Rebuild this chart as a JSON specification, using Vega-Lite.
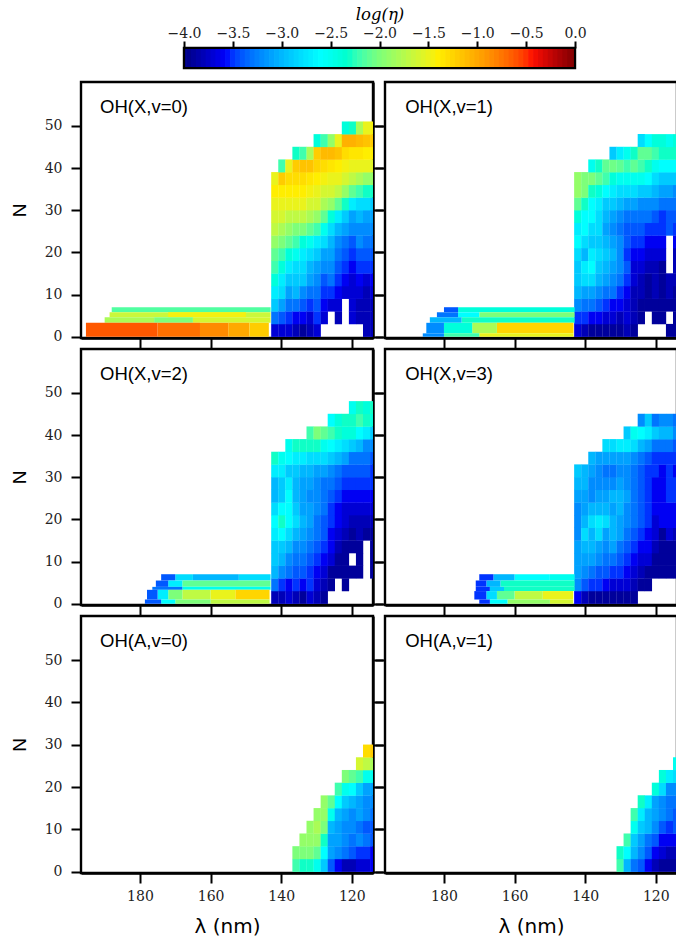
{"$schema":"https://vega.github.io/schema/vega-lite/v6.json","padding":{"left":8,"top":4,"right":0,"bottom":0},"background":"white","spacing":9,
"config":{"view":{"stroke":"black","strokeWidth":2.4},"axis":{"grid":false,"domain":false,"ticks":true,"tickColor":"black","tickWidth":2,"tickSize":10,"labelFont":"DejaVu Serif","labelFontSize":14,"labelColor":"#222222","labelPadding":9,"titleFont":"Liberation Sans","titleFontSize":19,"titleFontWeight":"normal","titleColor":"black","titlePadding":15,"zindex":1},"text":{"font":"Liberation Sans","fontSize":18.5,"color":"black","align":"left"}},
"datasets":{
"b0":[{"a":143,"c":188,"y":5.8,"z":7,"v":-2.15},{"a":143,"c":188.6,"y":4.6,"z":5.8,"v":-1.65},{"a":150,"c":172,"y":4.6,"z":5.8,"v":-1.45},{"a":143,"c":165,"y":3.3,"z":4.6,"v":-1.6},{"a":165,"c":176,"y":3.3,"z":4.6,"v":-2.0},{"a":176,"c":190,"y":3.3,"z":4.6,"v":-1.8},{"a":175,"c":195.3,"y":0,"z":3.3,"v":-0.62},{"a":163,"c":175,"y":0,"z":3.3,"v":-0.72},{"a":155,"c":163,"y":0,"z":3.3,"v":-0.85},{"a":149,"c":155,"y":0,"z":3.3,"v":-1.0},{"a":143.5,"c":149,"y":0,"z":3.3,"v":-1.2}],
"b1":[{"a":143,"c":176,"y":5.8,"z":7,"v":-2.4},{"a":176,"c":180,"y":5.8,"z":7,"v":-3.4},{"a":143,"c":170,"y":4.6,"z":5.8,"v":-2.0},{"a":170,"c":176,"y":4.6,"z":5.8,"v":-2.6},{"a":176,"c":182,"y":4.6,"z":5.8,"v":-3.3},{"a":143,"c":175,"y":3.3,"z":4.6,"v":-2.3},{"a":175,"c":184,"y":3.3,"z":4.6,"v":-3.0},{"a":143.3,"c":165,"y":0.8,"z":3.3,"v":-1.25},{"a":165,"c":172,"y":0.8,"z":3.3,"v":-1.8},{"a":172,"c":180,"y":0.8,"z":3.3,"v":-2.4},{"a":180,"c":185,"y":0.8,"z":3.3,"v":-3.2},{"a":143.3,"c":170,"y":0,"z":0.8,"v":-1.5},{"a":170,"c":180,"y":0,"z":0.8,"v":-2.2},{"a":180,"c":186,"y":0,"z":0.8,"v":-3.2}],
"b2":[{"a":143,"c":152,"y":5.5,"z":7,"v":-2.8},{"a":152,"c":165,"y":5.5,"z":7,"v":-3.0},{"a":165,"c":170,"y":5.5,"z":7,"v":-2.8},{"a":170,"c":174,"y":5.5,"z":7,"v":-3.4},{"a":143,"c":168,"y":4,"z":5.5,"v":-2.1},{"a":168,"c":172,"y":4,"z":5.5,"v":-2.7},{"a":172,"c":175.5,"y":4,"z":5.5,"v":-3.4},{"a":143,"c":168,"y":3.3,"z":4,"v":-2.5},{"a":168,"c":176.5,"y":3.3,"z":4,"v":-3.3},{"a":143.3,"c":153,"y":1,"z":3.3,"v":-1.25},{"a":153,"c":160,"y":1,"z":3.3,"v":-1.5},{"a":160,"c":168,"y":1,"z":3.3,"v":-1.7},{"a":168,"c":172,"y":1,"z":3.3,"v":-2.0},{"a":172,"c":175,"y":1,"z":3.3,"v":-2.7},{"a":175,"c":178,"y":1,"z":3.3,"v":-3.4},{"a":143.3,"c":160,"y":0,"z":1,"v":-1.7},{"a":160,"c":170,"y":0,"z":1,"v":-2.0},{"a":170,"c":174,"y":0,"z":1,"v":-2.6},{"a":174,"c":178.6,"y":0,"z":1,"v":-3.4}],
"b3":[{"a":143,"c":150,"y":5.5,"z":7,"v":-2.5},{"a":150,"c":160,"y":5.5,"z":7,"v":-2.6},{"a":160,"c":166,"y":5.5,"z":7,"v":-3.0},{"a":166,"c":170,"y":5.5,"z":7,"v":-3.5},{"a":143,"c":164,"y":4,"z":5.5,"v":-2.3},{"a":164,"c":168,"y":4,"z":5.5,"v":-3.0},{"a":168,"c":171,"y":4,"z":5.5,"v":-3.5},{"a":143,"c":163,"y":3,"z":4,"v":-2.3},{"a":163,"c":167,"y":3,"z":4,"v":-2.9},{"a":167,"c":171,"y":3,"z":4,"v":-3.5},{"a":143.4,"c":152,"y":1,"z":3,"v":-1.5},{"a":152,"c":160,"y":1,"z":3,"v":-1.7},{"a":160,"c":165,"y":1,"z":3,"v":-2.1},{"a":165,"c":168,"y":1,"z":3,"v":-2.8},{"a":168,"c":171.4,"y":1,"z":3,"v":-3.5},{"a":143.4,"c":150,"y":0,"z":1,"v":-1.6},{"a":150,"c":162,"y":0,"z":1,"v":-1.9},{"a":162,"c":167,"y":0,"z":1,"v":-2.6},{"a":167,"c":170,"y":0,"z":1,"v":-3.5}],
"u0":[
{"l":141.8,"n":1.5,"v":-3.7},{"l":141.8,"n":4.5,"v":-3.3},{"l":141.8,"n":7.5,"v":-2.9},{"l":141.8,"n":10.5,"v":-2.7},{"l":141.8,"n":13.5,"v":-2.4},{"l":141.8,"n":16.5,"v":-2.2},{"l":141.8,"n":19.5,"v":-2.1},{"l":141.8,"n":22.5,"v":-1.9},{"l":141.8,"n":25.5,"v":-1.7},{"l":141.8,"n":28.5,"v":-1.6},{"l":141.8,"n":31.5,"v":-1.5},{"l":141.8,"n":34.5,"v":-1.4},{"l":141.8,"n":37.5,"v":-1.5},
{"l":139.8,"n":1.5,"v":-3.7},{"l":139.8,"n":4.5,"v":-3.4},{"l":139.8,"n":7.5,"v":-3.1},{"l":139.8,"n":10.5,"v":-2.8},{"l":139.8,"n":13.5,"v":-2.7},{"l":139.8,"n":16.5,"v":-2.4},{"l":139.8,"n":19.5,"v":-2.2},{"l":139.8,"n":22.5,"v":-2.0},{"l":139.8,"n":25.5,"v":-1.8},{"l":139.8,"n":28.5,"v":-1.6},{"l":139.8,"n":31.5,"v":-1.5},{"l":139.8,"n":34.5,"v":-1.4},{"l":139.8,"n":37.5,"v":-1.2},{"l":139.8,"n":40.5,"v":-2.2},
{"l":137.8,"n":1.5,"v":-3.7},{"l":137.8,"n":4.5,"v":-3.5},{"l":137.8,"n":7.5,"v":-3.3},{"l":137.8,"n":10.5,"v":-3.1},{"l":137.8,"n":13.5,"v":-2.9},{"l":137.8,"n":16.5,"v":-2.7},{"l":137.8,"n":19.5,"v":-2.4},{"l":137.8,"n":22.5,"v":-2.1},{"l":137.8,"n":25.5,"v":-1.9},{"l":137.8,"n":28.5,"v":-1.7},{"l":137.8,"n":31.5,"v":-1.5},{"l":137.8,"n":34.5,"v":-1.4},{"l":137.8,"n":37.5,"v":-1.3},{"l":137.8,"n":40.5,"v":-1.5},
{"l":135.8,"n":1.5,"v":-3.8},{"l":135.8,"n":4.5,"v":-3.6},{"l":135.8,"n":7.5,"v":-3.3},{"l":135.8,"n":10.5,"v":-3.0},{"l":135.8,"n":13.5,"v":-2.9},{"l":135.8,"n":16.5,"v":-2.8},{"l":135.8,"n":19.5,"v":-2.5},{"l":135.8,"n":22.5,"v":-2.2},{"l":135.8,"n":25.5,"v":-2.0},{"l":135.8,"n":28.5,"v":-1.7},{"l":135.8,"n":31.5,"v":-1.5},{"l":135.8,"n":34.5,"v":-1.4},{"l":135.8,"n":37.5,"v":-1.3},{"l":135.8,"n":40.5,"v":-1.2},{"l":135.8,"n":43.5,"v":-2.3},
{"l":133.8,"n":1.5,"v":-3.9},{"l":133.8,"n":4.5,"v":-3.6},{"l":133.8,"n":7.5,"v":-3.4},{"l":133.8,"n":10.5,"v":-3.2},{"l":133.8,"n":13.5,"v":-2.9},{"l":133.8,"n":16.5,"v":-2.8},{"l":133.8,"n":19.5,"v":-2.7},{"l":133.8,"n":22.5,"v":-2.4},{"l":133.8,"n":25.5,"v":-2.0},{"l":133.8,"n":28.5,"v":-1.7},{"l":133.8,"n":31.5,"v":-1.5},{"l":133.8,"n":34.5,"v":-1.4},{"l":133.8,"n":37.5,"v":-1.3},{"l":133.8,"n":40.5,"v":-1.15},{"l":133.8,"n":43.5,"v":-2.2},
{"l":131.8,"n":1.5,"v":-3.8},{"l":131.8,"n":4.5,"v":-3.7},{"l":131.8,"n":7.5,"v":-3.5},{"l":131.8,"n":10.5,"v":-3.3},{"l":131.8,"n":13.5,"v":-3.1},{"l":131.8,"n":16.5,"v":-3.0},{"l":131.8,"n":19.5,"v":-2.8},{"l":131.8,"n":22.5,"v":-2.5},{"l":131.8,"n":25.5,"v":-2.1},{"l":131.8,"n":28.5,"v":-1.8},{"l":131.8,"n":31.5,"v":-1.6},{"l":131.8,"n":34.5,"v":-1.45},{"l":131.8,"n":37.5,"v":-1.35},{"l":131.8,"n":40.5,"v":-1.15},{"l":131.8,"n":43.5,"v":-1.8},
{"l":129.8,"n":1.5,"v":-3.7},{"l":129.8,"n":4.5,"v":-3.5},{"l":129.8,"n":7.5,"v":-3.4},{"l":129.8,"n":10.5,"v":-3.3},{"l":129.8,"n":13.5,"v":-3.2},{"l":129.8,"n":16.5,"v":-3.1},{"l":129.8,"n":19.5,"v":-2.9},{"l":129.8,"n":22.5,"v":-2.7},{"l":129.8,"n":25.5,"v":-2.2},{"l":129.8,"n":28.5,"v":-1.9},{"l":129.8,"n":31.5,"v":-1.6},{"l":129.8,"n":34.5,"v":-1.5},{"l":129.8,"n":37.5,"v":-1.4},{"l":129.8,"n":40.5,"v":-1.25},{"l":129.8,"n":43.5,"v":-1.2},{"l":129.8,"n":46.5,"v":-2.4},
{"l":127.8,"n":4.5,"v":-3.7},{"l":127.8,"n":7.5,"v":-3.6},{"l":127.8,"n":10.5,"v":-3.5},{"l":127.8,"n":13.5,"v":-3.4},{"l":127.8,"n":16.5,"v":-3.2},{"l":127.8,"n":19.5,"v":-3.1},{"l":127.8,"n":22.5,"v":-2.8},{"l":127.8,"n":25.5,"v":-2.5},{"l":127.8,"n":28.5,"v":-2.1},{"l":127.8,"n":31.5,"v":-1.8},{"l":127.8,"n":34.5,"v":-1.6},{"l":127.8,"n":37.5,"v":-1.45},{"l":127.8,"n":40.5,"v":-1.3},{"l":127.8,"n":43.5,"v":-1.1},{"l":127.8,"n":46.5,"v":-2.2},
{"l":125.8,"n":7.5,"v":-3.7},{"l":125.8,"n":10.5,"v":-3.5},{"l":125.8,"n":13.5,"v":-3.3},{"l":125.8,"n":16.5,"v":-3.2},{"l":125.8,"n":19.5,"v":-3.1},{"l":125.8,"n":22.5,"v":-3.0},{"l":125.8,"n":25.5,"v":-2.8},{"l":125.8,"n":28.5,"v":-2.4},{"l":125.8,"n":31.5,"v":-1.9},{"l":125.8,"n":34.5,"v":-1.6},{"l":125.8,"n":37.5,"v":-1.5},{"l":125.8,"n":40.5,"v":-1.35},{"l":125.8,"n":43.5,"v":-1.1},{"l":125.8,"n":46.5,"v":-1.9},
{"l":123.8,"n":4.5,"v":-3.8},{"l":123.8,"n":7.5,"v":-3.7},{"l":123.8,"n":10.5,"v":-3.6},{"l":123.8,"n":13.5,"v":-3.5},{"l":123.8,"n":16.5,"v":-3.4},{"l":123.8,"n":19.5,"v":-3.3},{"l":123.8,"n":22.5,"v":-3.2},{"l":123.8,"n":25.5,"v":-3.0},{"l":123.8,"n":28.5,"v":-2.7},{"l":123.8,"n":31.5,"v":-2.1},{"l":123.8,"n":34.5,"v":-1.7},{"l":123.8,"n":37.5,"v":-1.5},{"l":123.8,"n":40.5,"v":-1.4},{"l":123.8,"n":43.5,"v":-1.15},{"l":123.8,"n":46.5,"v":-1.5},
{"l":121.8,"n":10.5,"v":-3.7},{"l":121.8,"n":13.5,"v":-3.6},{"l":121.8,"n":16.5,"v":-3.5},{"l":121.8,"n":19.5,"v":-3.4},{"l":121.8,"n":22.5,"v":-3.3},{"l":121.8,"n":25.5,"v":-3.1},{"l":121.8,"n":28.5,"v":-2.9},{"l":121.8,"n":31.5,"v":-2.3},{"l":121.8,"n":34.5,"v":-1.9},{"l":121.8,"n":37.5,"v":-1.6},{"l":121.8,"n":40.5,"v":-1.45},{"l":121.8,"n":43.5,"v":-1.3},{"l":121.8,"n":46.5,"v":-1.05},{"l":121.8,"n":49.5,"v":-2.4},
{"l":119.8,"n":4.5,"v":-3.7},{"l":119.8,"n":7.5,"v":-3.7},{"l":119.8,"n":10.5,"v":-3.7},{"l":119.8,"n":13.5,"v":-3.7},{"l":119.8,"n":16.5,"v":-3.6},{"l":119.8,"n":19.5,"v":-3.5},{"l":119.8,"n":22.5,"v":-3.4},{"l":119.8,"n":25.5,"v":-3.2},{"l":119.8,"n":28.5,"v":-3.1},{"l":119.8,"n":31.5,"v":-2.7},{"l":119.8,"n":34.5,"v":-2.1},{"l":119.8,"n":37.5,"v":-1.7},{"l":119.8,"n":40.5,"v":-1.5},{"l":119.8,"n":43.5,"v":-1.35},{"l":119.8,"n":46.5,"v":-1.05},{"l":119.8,"n":49.5,"v":-2.3},
{"l":117.8,"n":4.5,"v":-3.8},{"l":117.8,"n":7.5,"v":-3.8},{"l":117.8,"n":10.5,"v":-3.7},{"l":117.8,"n":13.5,"v":-3.6},{"l":117.8,"n":16.5,"v":-3.5},{"l":117.8,"n":19.5,"v":-3.4},{"l":117.8,"n":22.5,"v":-3.2},{"l":117.8,"n":25.5,"v":-3.2},{"l":117.8,"n":28.5,"v":-3.0},{"l":117.8,"n":31.5,"v":-2.8},{"l":117.8,"n":34.5,"v":-2.2},{"l":117.8,"n":37.5,"v":-1.8},{"l":117.8,"n":40.5,"v":-1.5},{"l":117.8,"n":43.5,"v":-1.35},{"l":117.8,"n":46.5,"v":-1.1},{"l":117.8,"n":49.5,"v":-1.8},
{"l":115.8,"n":1.5,"v":-3.8},{"l":115.8,"n":4.5,"v":-3.8},{"l":115.8,"n":7.5,"v":-3.8},{"l":115.8,"n":10.5,"v":-3.8},{"l":115.8,"n":13.5,"v":-3.7},{"l":115.8,"n":16.5,"v":-3.5},{"l":115.8,"n":19.5,"v":-3.4},{"l":115.8,"n":22.5,"v":-3.3},{"l":115.8,"n":25.5,"v":-3.2},{"l":115.8,"n":28.5,"v":-3.1},{"l":115.8,"n":31.5,"v":-2.8},{"l":115.8,"n":34.5,"v":-2.3},{"l":115.8,"n":37.5,"v":-1.9},{"l":115.8,"n":40.5,"v":-1.5},{"l":115.8,"n":43.5,"v":-1.4},{"l":115.8,"n":46.5,"v":-1.15},{"l":115.8,"n":49.5,"v":-1.5},
{"l":113.8,"n":1.5,"v":-3.8},{"l":113.8,"n":4.5,"v":-3.8},{"l":113.8,"n":7.5,"v":-3.8},{"l":113.8,"n":10.5,"v":-3.7},{"l":113.8,"n":13.5,"v":-3.6},{"l":113.8,"n":16.5,"v":-3.5},{"l":113.8,"n":19.5,"v":-3.4},{"l":113.8,"n":22.5,"v":-3.3},{"l":113.8,"n":25.5,"v":-3.2},{"l":113.8,"n":28.5,"v":-3.1},{"l":113.8,"n":31.5,"v":-2.9},{"l":113.8,"n":34.5,"v":-2.3},{"l":113.8,"n":37.5,"v":-1.9},{"l":113.8,"n":40.5,"v":-1.55},{"l":113.8,"n":43.5,"v":-1.4},{"l":113.8,"n":46.5,"v":-1.2},{"l":113.8,"n":49.5,"v":-1.45}],
"u1":[
{"l":142.1,"n":1.5,"v":-3.7},{"l":142.1,"n":4.5,"v":-3.5},{"l":142.1,"n":7.5,"v":-3.2},{"l":142.1,"n":10.5,"v":-3.0},{"l":142.1,"n":13.5,"v":-2.9},{"l":142.1,"n":16.5,"v":-2.9},{"l":142.1,"n":19.5,"v":-2.8},{"l":142.1,"n":22.5,"v":-2.6},{"l":142.1,"n":25.5,"v":-2.7},{"l":142.1,"n":28.5,"v":-2.4},{"l":142.1,"n":31.5,"v":-2.1},{"l":142.1,"n":34.5,"v":-1.9},{"l":142.1,"n":37.5,"v":-1.9},
{"l":140.1,"n":1.5,"v":-3.8},{"l":140.1,"n":4.5,"v":-3.5},{"l":140.1,"n":7.5,"v":-3.3},{"l":140.1,"n":10.5,"v":-3.1},{"l":140.1,"n":13.5,"v":-2.8},{"l":140.1,"n":16.5,"v":-2.7},{"l":140.1,"n":19.5,"v":-3.0},{"l":140.1,"n":22.5,"v":-2.8},{"l":140.1,"n":25.5,"v":-2.6},{"l":140.1,"n":28.5,"v":-2.6},{"l":140.1,"n":31.5,"v":-2.3},{"l":140.1,"n":34.5,"v":-2.0},{"l":140.1,"n":37.5,"v":-2.0},
{"l":138.1,"n":1.5,"v":-3.9},{"l":138.1,"n":4.5,"v":-3.6},{"l":138.1,"n":7.5,"v":-3.3},{"l":138.1,"n":10.5,"v":-3.1},{"l":138.1,"n":13.5,"v":-2.8},{"l":138.1,"n":16.5,"v":-2.6},{"l":138.1,"n":19.5,"v":-2.7},{"l":138.1,"n":22.5,"v":-2.9},{"l":138.1,"n":25.5,"v":-2.8},{"l":138.1,"n":28.5,"v":-2.6},{"l":138.1,"n":31.5,"v":-2.6},{"l":138.1,"n":34.5,"v":-2.3},{"l":138.1,"n":37.5,"v":-2.0},{"l":138.1,"n":40.5,"v":-2.5},
{"l":136.1,"n":1.5,"v":-3.9},{"l":136.1,"n":4.5,"v":-3.6},{"l":136.1,"n":7.5,"v":-3.4},{"l":136.1,"n":10.5,"v":-3.2},{"l":136.1,"n":13.5,"v":-3.0},{"l":136.1,"n":16.5,"v":-2.9},{"l":136.1,"n":19.5,"v":-2.8},{"l":136.1,"n":22.5,"v":-2.9},{"l":136.1,"n":25.5,"v":-2.8},{"l":136.1,"n":28.5,"v":-2.8},{"l":136.1,"n":31.5,"v":-2.7},{"l":136.1,"n":34.5,"v":-2.4},{"l":136.1,"n":37.5,"v":-2.1},{"l":136.1,"n":40.5,"v":-2.3},
{"l":134.1,"n":1.5,"v":-3.9},{"l":134.1,"n":4.5,"v":-3.7},{"l":134.1,"n":7.5,"v":-3.5},{"l":134.1,"n":10.5,"v":-3.3},{"l":134.1,"n":13.5,"v":-3.1},{"l":134.1,"n":16.5,"v":-3.0},{"l":134.1,"n":19.5,"v":-2.9},{"l":134.1,"n":22.5,"v":-3.0},{"l":134.1,"n":25.5,"v":-3.1},{"l":134.1,"n":28.5,"v":-3.0},{"l":134.1,"n":31.5,"v":-2.9},{"l":134.1,"n":34.5,"v":-2.6},{"l":134.1,"n":37.5,"v":-2.2},{"l":134.1,"n":40.5,"v":-2.1},
{"l":132.1,"n":1.5,"v":-3.9},{"l":132.1,"n":4.5,"v":-3.7},{"l":132.1,"n":7.5,"v":-3.6},{"l":132.1,"n":10.5,"v":-3.3},{"l":132.1,"n":13.5,"v":-3.2},{"l":132.1,"n":16.5,"v":-3.1},{"l":132.1,"n":19.5,"v":-3.0},{"l":132.1,"n":22.5,"v":-3.1},{"l":132.1,"n":25.5,"v":-3.2},{"l":132.1,"n":28.5,"v":-3.1},{"l":132.1,"n":31.5,"v":-2.9},{"l":132.1,"n":34.5,"v":-2.7},{"l":132.1,"n":37.5,"v":-2.4},{"l":132.1,"n":40.5,"v":-2.05},{"l":132.1,"n":43.5,"v":-2.9},
{"l":130.1,"n":1.5,"v":-3.9},{"l":130.1,"n":4.5,"v":-3.8},{"l":130.1,"n":7.5,"v":-3.6},{"l":130.1,"n":10.5,"v":-3.5},{"l":130.1,"n":13.5,"v":-3.3},{"l":130.1,"n":16.5,"v":-3.2},{"l":130.1,"n":19.5,"v":-3.2},{"l":130.1,"n":22.5,"v":-3.2},{"l":130.1,"n":25.5,"v":-3.3},{"l":130.1,"n":28.5,"v":-3.2},{"l":130.1,"n":31.5,"v":-3.0},{"l":130.1,"n":34.5,"v":-2.8},{"l":130.1,"n":37.5,"v":-2.5},{"l":130.1,"n":40.5,"v":-2.1},{"l":130.1,"n":43.5,"v":-2.7},
{"l":128.1,"n":1.5,"v":-3.8},{"l":128.1,"n":4.5,"v":-3.7},{"l":128.1,"n":7.5,"v":-3.7},{"l":128.1,"n":10.5,"v":-3.6},{"l":128.1,"n":13.5,"v":-3.5},{"l":128.1,"n":16.5,"v":-3.4},{"l":128.1,"n":19.5,"v":-3.5},{"l":128.1,"n":22.5,"v":-3.4},{"l":128.1,"n":25.5,"v":-3.4},{"l":128.1,"n":28.5,"v":-3.3},{"l":128.1,"n":31.5,"v":-3.1},{"l":128.1,"n":34.5,"v":-2.8},{"l":128.1,"n":37.5,"v":-2.5},{"l":128.1,"n":40.5,"v":-2.2},{"l":128.1,"n":43.5,"v":-2.5},
{"l":126.1,"n":1.5,"v":-3.9},{"l":126.1,"n":4.5,"v":-3.8},{"l":126.1,"n":7.5,"v":-3.8},{"l":126.1,"n":10.5,"v":-3.8},{"l":126.1,"n":13.5,"v":-3.7},{"l":126.1,"n":16.5,"v":-3.7},{"l":126.1,"n":19.5,"v":-3.6},{"l":126.1,"n":22.5,"v":-3.5},{"l":126.1,"n":25.5,"v":-3.4},{"l":126.1,"n":28.5,"v":-3.3},{"l":126.1,"n":31.5,"v":-3.1},{"l":126.1,"n":34.5,"v":-2.8},{"l":126.1,"n":37.5,"v":-2.5},{"l":126.1,"n":40.5,"v":-2.1},{"l":126.1,"n":43.5,"v":-2.3},
{"l":124.1,"n":4.5,"v":-3.9},{"l":124.1,"n":7.5,"v":-3.9},{"l":124.1,"n":10.5,"v":-3.8},{"l":124.1,"n":13.5,"v":-3.8},{"l":124.1,"n":16.5,"v":-3.7},{"l":124.1,"n":19.5,"v":-3.6},{"l":124.1,"n":22.5,"v":-3.5},{"l":124.1,"n":25.5,"v":-3.4},{"l":124.1,"n":28.5,"v":-3.3},{"l":124.1,"n":31.5,"v":-3.2},{"l":124.1,"n":34.5,"v":-2.9},{"l":124.1,"n":37.5,"v":-2.5},{"l":124.1,"n":40.5,"v":-2.2},{"l":124.1,"n":43.5,"v":-2.1},{"l":124.1,"n":46.5,"v":-2.8},
{"l":122.1,"n":7.5,"v":-3.9},{"l":122.1,"n":10.5,"v":-3.9},{"l":122.1,"n":13.5,"v":-3.9},{"l":122.1,"n":16.5,"v":-3.8},{"l":122.1,"n":19.5,"v":-3.7},{"l":122.1,"n":22.5,"v":-3.6},{"l":122.1,"n":25.5,"v":-3.5},{"l":122.1,"n":28.5,"v":-3.3},{"l":122.1,"n":31.5,"v":-3.2},{"l":122.1,"n":34.5,"v":-2.9},{"l":122.1,"n":37.5,"v":-2.6},{"l":122.1,"n":40.5,"v":-2.3},{"l":122.1,"n":43.5,"v":-2.1},{"l":122.1,"n":46.5,"v":-2.6},
{"l":120.1,"n":4.5,"v":-3.9},{"l":120.1,"n":7.5,"v":-3.9},{"l":120.1,"n":10.5,"v":-3.8},{"l":120.1,"n":13.5,"v":-3.8},{"l":120.1,"n":16.5,"v":-3.8},{"l":120.1,"n":19.5,"v":-3.7},{"l":120.1,"n":22.5,"v":-3.6},{"l":120.1,"n":25.5,"v":-3.5},{"l":120.1,"n":28.5,"v":-3.4},{"l":120.1,"n":31.5,"v":-3.2},{"l":120.1,"n":34.5,"v":-3.0},{"l":120.1,"n":37.5,"v":-2.8},{"l":120.1,"n":40.5,"v":-2.5},{"l":120.1,"n":43.5,"v":-2.2},{"l":120.1,"n":46.5,"v":-2.4},
{"l":118.1,"n":4.5,"v":-3.9},{"l":118.1,"n":7.5,"v":-3.9},{"l":118.1,"n":10.5,"v":-3.9},{"l":118.1,"n":13.5,"v":-3.9},{"l":118.1,"n":16.5,"v":-3.9},{"l":118.1,"n":19.5,"v":-3.7},{"l":118.1,"n":22.5,"v":-3.6},{"l":118.1,"n":25.5,"v":-3.5},{"l":118.1,"n":28.5,"v":-3.5},{"l":118.1,"n":31.5,"v":-3.3},{"l":118.1,"n":34.5,"v":-3.1},{"l":118.1,"n":37.5,"v":-2.9},{"l":118.1,"n":40.5,"v":-2.6},{"l":118.1,"n":43.5,"v":-2.3},{"l":118.1,"n":46.5,"v":-2.4},
{"l":116.1,"n":1.5,"v":-3.9},{"l":116.1,"n":7.5,"v":-3.9},{"l":116.1,"n":10.5,"v":-3.8},{"l":116.1,"n":13.5,"v":-3.8},{"l":116.1,"n":25.5,"v":-3.4},{"l":116.1,"n":28.5,"v":-3.4},{"l":116.1,"n":31.5,"v":-3.3},{"l":116.1,"n":34.5,"v":-3.1},{"l":116.1,"n":37.5,"v":-2.9},{"l":116.1,"n":40.5,"v":-2.6},{"l":116.1,"n":43.5,"v":-2.3},{"l":116.1,"n":46.5,"v":-2.5},
{"l":114.1,"n":1.5,"v":-3.9},{"l":114.1,"n":4.5,"v":-3.9},{"l":114.1,"n":7.5,"v":-3.9},{"l":114.1,"n":10.5,"v":-3.9},{"l":114.1,"n":13.5,"v":-3.8},{"l":114.1,"n":16.5,"v":-3.8},{"l":114.1,"n":19.5,"v":-3.8},{"l":114.1,"n":22.5,"v":-3.6},{"l":114.1,"n":25.5,"v":-3.5},{"l":114.1,"n":28.5,"v":-3.4},{"l":114.1,"n":31.5,"v":-3.3},{"l":114.1,"n":34.5,"v":-3.2},{"l":114.1,"n":37.5,"v":-2.9},{"l":114.1,"n":40.5,"v":-2.6},{"l":114.1,"n":43.5,"v":-2.3},{"l":114.1,"n":46.5,"v":-2.4}],
"u2":[
{"l":141.8,"n":1.5,"v":-3.8},{"l":141.8,"n":4.5,"v":-3.3},{"l":141.8,"n":7.5,"v":-3.0},{"l":141.8,"n":10.5,"v":-2.9},{"l":141.8,"n":13.5,"v":-2.9},{"l":141.8,"n":16.5,"v":-2.7},{"l":141.8,"n":19.5,"v":-2.6},{"l":141.8,"n":22.5,"v":-2.8},{"l":141.8,"n":25.5,"v":-3.0},{"l":141.8,"n":28.5,"v":-3.0},{"l":141.8,"n":31.5,"v":-2.7},{"l":141.8,"n":34.5,"v":-2.3},
{"l":139.8,"n":1.5,"v":-3.8},{"l":139.8,"n":4.5,"v":-3.5},{"l":139.8,"n":7.5,"v":-3.2},{"l":139.8,"n":10.5,"v":-3.0},{"l":139.8,"n":13.5,"v":-2.9},{"l":139.8,"n":16.5,"v":-2.6},{"l":139.8,"n":19.5,"v":-2.3},{"l":139.8,"n":22.5,"v":-2.6},{"l":139.8,"n":25.5,"v":-2.9},{"l":139.8,"n":28.5,"v":-2.9},{"l":139.8,"n":31.5,"v":-2.7},{"l":139.8,"n":34.5,"v":-2.5},
{"l":137.8,"n":1.5,"v":-3.7},{"l":137.8,"n":4.5,"v":-3.6},{"l":137.8,"n":7.5,"v":-3.3},{"l":137.8,"n":10.5,"v":-3.2},{"l":137.8,"n":13.5,"v":-3.0},{"l":137.8,"n":16.5,"v":-2.8},{"l":137.8,"n":19.5,"v":-2.6},{"l":137.8,"n":22.5,"v":-2.6},{"l":137.8,"n":25.5,"v":-2.6},{"l":137.8,"n":28.5,"v":-2.7},{"l":137.8,"n":31.5,"v":-2.9},{"l":137.8,"n":34.5,"v":-2.6},{"l":137.8,"n":37.5,"v":-2.5},
{"l":135.8,"n":1.5,"v":-3.8},{"l":135.8,"n":4.5,"v":-3.5},{"l":135.8,"n":7.5,"v":-3.4},{"l":135.8,"n":10.5,"v":-3.3},{"l":135.8,"n":13.5,"v":-3.2},{"l":135.8,"n":16.5,"v":-3.0},{"l":135.8,"n":19.5,"v":-2.8},{"l":135.8,"n":22.5,"v":-2.9},{"l":135.8,"n":25.5,"v":-3.0},{"l":135.8,"n":28.5,"v":-3.0},{"l":135.8,"n":31.5,"v":-2.9},{"l":135.8,"n":34.5,"v":-2.7},{"l":135.8,"n":37.5,"v":-2.3},
{"l":133.8,"n":1.5,"v":-3.9},{"l":133.8,"n":4.5,"v":-3.6},{"l":133.8,"n":7.5,"v":-3.4},{"l":133.8,"n":10.5,"v":-3.3},{"l":133.8,"n":13.5,"v":-3.2},{"l":133.8,"n":16.5,"v":-3.1},{"l":133.8,"n":19.5,"v":-3.0},{"l":133.8,"n":22.5,"v":-3.1},{"l":133.8,"n":25.5,"v":-3.1},{"l":133.8,"n":28.5,"v":-3.1},{"l":133.8,"n":31.5,"v":-3.0},{"l":133.8,"n":34.5,"v":-2.7},{"l":133.8,"n":37.5,"v":-2.3},
{"l":131.8,"n":1.5,"v":-3.7},{"l":131.8,"n":4.5,"v":-3.5},{"l":131.8,"n":7.5,"v":-3.5},{"l":131.8,"n":10.5,"v":-3.4},{"l":131.8,"n":13.5,"v":-3.3},{"l":131.8,"n":16.5,"v":-3.2},{"l":131.8,"n":19.5,"v":-3.1},{"l":131.8,"n":22.5,"v":-3.1},{"l":131.8,"n":25.5,"v":-3.2},{"l":131.8,"n":28.5,"v":-3.1},{"l":131.8,"n":31.5,"v":-3.0},{"l":131.8,"n":34.5,"v":-2.8},{"l":131.8,"n":37.5,"v":-2.3},{"l":131.8,"n":40.5,"v":-2.2},
{"l":129.8,"n":1.5,"v":-3.8},{"l":129.8,"n":4.5,"v":-3.7},{"l":129.8,"n":7.5,"v":-3.6},{"l":129.8,"n":10.5,"v":-3.5},{"l":129.8,"n":13.5,"v":-3.4},{"l":129.8,"n":16.5,"v":-3.3},{"l":129.8,"n":19.5,"v":-3.3},{"l":129.8,"n":22.5,"v":-3.2},{"l":129.8,"n":25.5,"v":-3.2},{"l":129.8,"n":28.5,"v":-3.2},{"l":129.8,"n":31.5,"v":-3.1},{"l":129.8,"n":34.5,"v":-2.8},{"l":129.8,"n":37.5,"v":-2.3},{"l":129.8,"n":40.5,"v":-2.0},
{"l":127.8,"n":1.5,"v":-3.9},{"l":127.8,"n":4.5,"v":-3.8},{"l":127.8,"n":7.5,"v":-3.7},{"l":127.8,"n":10.5,"v":-3.6},{"l":127.8,"n":13.5,"v":-3.5},{"l":127.8,"n":16.5,"v":-3.4},{"l":127.8,"n":19.5,"v":-3.4},{"l":127.8,"n":22.5,"v":-3.3},{"l":127.8,"n":25.5,"v":-3.3},{"l":127.8,"n":28.5,"v":-3.3},{"l":127.8,"n":31.5,"v":-3.1},{"l":127.8,"n":34.5,"v":-2.8},{"l":127.8,"n":37.5,"v":-2.5},{"l":127.8,"n":40.5,"v":-2.1},
{"l":125.8,"n":4.5,"v":-3.9},{"l":125.8,"n":7.5,"v":-3.9},{"l":125.8,"n":10.5,"v":-3.7},{"l":125.8,"n":13.5,"v":-3.6},{"l":125.8,"n":16.5,"v":-3.6},{"l":125.8,"n":19.5,"v":-3.5},{"l":125.8,"n":22.5,"v":-3.5},{"l":125.8,"n":25.5,"v":-3.4},{"l":125.8,"n":28.5,"v":-3.3},{"l":125.8,"n":31.5,"v":-3.2},{"l":125.8,"n":34.5,"v":-2.9},{"l":125.8,"n":37.5,"v":-2.6},{"l":125.8,"n":40.5,"v":-2.2},{"l":125.8,"n":43.5,"v":-2.6},
{"l":123.8,"n":7.5,"v":-3.9},{"l":123.8,"n":10.5,"v":-3.9},{"l":123.8,"n":13.5,"v":-3.8},{"l":123.8,"n":16.5,"v":-3.7},{"l":123.8,"n":19.5,"v":-3.6},{"l":123.8,"n":22.5,"v":-3.6},{"l":123.8,"n":25.5,"v":-3.5},{"l":123.8,"n":28.5,"v":-3.4},{"l":123.8,"n":31.5,"v":-3.3},{"l":123.8,"n":34.5,"v":-3.0},{"l":123.8,"n":37.5,"v":-2.7},{"l":123.8,"n":40.5,"v":-2.3},{"l":123.8,"n":43.5,"v":-2.4},
{"l":121.8,"n":4.5,"v":-3.9},{"l":121.8,"n":7.5,"v":-3.9},{"l":121.8,"n":10.5,"v":-3.9},{"l":121.8,"n":13.5,"v":-3.9},{"l":121.8,"n":16.5,"v":-3.8},{"l":121.8,"n":19.5,"v":-3.7},{"l":121.8,"n":22.5,"v":-3.7},{"l":121.8,"n":25.5,"v":-3.6},{"l":121.8,"n":28.5,"v":-3.5},{"l":121.8,"n":31.5,"v":-3.4},{"l":121.8,"n":34.5,"v":-3.1},{"l":121.8,"n":37.5,"v":-2.8},{"l":121.8,"n":40.5,"v":-2.4},{"l":121.8,"n":43.5,"v":-2.3},
{"l":119.8,"n":7.5,"v":-3.9},{"l":119.8,"n":13.5,"v":-3.9},{"l":119.8,"n":16.5,"v":-3.9},{"l":119.8,"n":19.5,"v":-3.8},{"l":119.8,"n":22.5,"v":-3.7},{"l":119.8,"n":25.5,"v":-3.6},{"l":119.8,"n":28.5,"v":-3.5},{"l":119.8,"n":31.5,"v":-3.4},{"l":119.8,"n":34.5,"v":-3.3},{"l":119.8,"n":37.5,"v":-2.9},{"l":119.8,"n":40.5,"v":-2.4},{"l":119.8,"n":43.5,"v":-2.3},{"l":119.8,"n":46.5,"v":-2.5},
{"l":117.8,"n":7.5,"v":-3.9},{"l":117.8,"n":10.5,"v":-3.9},{"l":117.8,"n":13.5,"v":-3.9},{"l":117.8,"n":16.5,"v":-3.8},{"l":117.8,"n":19.5,"v":-3.8},{"l":117.8,"n":22.5,"v":-3.7},{"l":117.8,"n":25.5,"v":-3.6},{"l":117.8,"n":28.5,"v":-3.5},{"l":117.8,"n":31.5,"v":-3.4},{"l":117.8,"n":34.5,"v":-3.3},{"l":117.8,"n":37.5,"v":-3.0},{"l":117.8,"n":40.5,"v":-2.6},{"l":117.8,"n":43.5,"v":-2.2},{"l":117.8,"n":46.5,"v":-2.3},
{"l":115.8,"n":16.5,"v":-3.9},{"l":115.8,"n":19.5,"v":-3.8},{"l":115.8,"n":22.5,"v":-3.7},{"l":115.8,"n":25.5,"v":-3.6},{"l":115.8,"n":28.5,"v":-3.5},{"l":115.8,"n":31.5,"v":-3.4},{"l":115.8,"n":34.5,"v":-3.3},{"l":115.8,"n":37.5,"v":-3.2},{"l":115.8,"n":40.5,"v":-2.7},{"l":115.8,"n":43.5,"v":-2.3},{"l":115.8,"n":46.5,"v":-2.4},
{"l":113.8,"n":7.5,"v":-3.9},{"l":113.8,"n":10.5,"v":-3.9},{"l":113.8,"n":13.5,"v":-3.9},{"l":113.8,"n":16.5,"v":-3.9},{"l":113.8,"n":19.5,"v":-3.8},{"l":113.8,"n":22.5,"v":-3.7},{"l":113.8,"n":25.5,"v":-3.6},{"l":113.8,"n":28.5,"v":-3.5},{"l":113.8,"n":31.5,"v":-3.5},{"l":113.8,"n":34.5,"v":-3.4},{"l":113.8,"n":37.5,"v":-3.2},{"l":113.8,"n":40.5,"v":-2.9},{"l":113.8,"n":43.5,"v":-2.4},{"l":113.8,"n":46.5,"v":-2.3}],
"u3":[
{"l":142.1,"n":1.5,"v":-3.6},{"l":142.1,"n":4.5,"v":-3.2},{"l":142.1,"n":7.5,"v":-3.1},{"l":142.1,"n":10.5,"v":-3.1},{"l":142.1,"n":13.5,"v":-3.1},{"l":142.1,"n":16.5,"v":-3.2},{"l":142.1,"n":19.5,"v":-3.2},{"l":142.1,"n":22.5,"v":-3.2},{"l":142.1,"n":25.5,"v":-3.1},{"l":142.1,"n":28.5,"v":-3.0},{"l":142.1,"n":31.5,"v":-2.9},
{"l":140.1,"n":1.5,"v":-3.8},{"l":140.1,"n":4.5,"v":-3.4},{"l":140.1,"n":7.5,"v":-3.2},{"l":140.1,"n":10.5,"v":-3.1},{"l":140.1,"n":13.5,"v":-3.0},{"l":140.1,"n":16.5,"v":-2.8},{"l":140.1,"n":19.5,"v":-3.0},{"l":140.1,"n":22.5,"v":-3.1},{"l":140.1,"n":25.5,"v":-3.1},{"l":140.1,"n":28.5,"v":-3.0},{"l":140.1,"n":31.5,"v":-3.0},
{"l":138.1,"n":1.5,"v":-3.9},{"l":138.1,"n":4.5,"v":-3.5},{"l":138.1,"n":7.5,"v":-3.3},{"l":138.1,"n":10.5,"v":-3.1},{"l":138.1,"n":13.5,"v":-3.0},{"l":138.1,"n":16.5,"v":-3.0},{"l":138.1,"n":19.5,"v":-2.8},{"l":138.1,"n":22.5,"v":-3.0},{"l":138.1,"n":25.5,"v":-3.2},{"l":138.1,"n":28.5,"v":-3.2},{"l":138.1,"n":31.5,"v":-3.1},{"l":138.1,"n":34.5,"v":-3.0},
{"l":136.1,"n":1.5,"v":-3.9},{"l":136.1,"n":4.5,"v":-3.5},{"l":136.1,"n":7.5,"v":-3.4},{"l":136.1,"n":10.5,"v":-3.2},{"l":136.1,"n":13.5,"v":-3.1},{"l":136.1,"n":16.5,"v":-2.8},{"l":136.1,"n":19.5,"v":-2.7},{"l":136.1,"n":22.5,"v":-3.0},{"l":136.1,"n":25.5,"v":-3.1},{"l":136.1,"n":28.5,"v":-3.2},{"l":136.1,"n":31.5,"v":-3.2},{"l":136.1,"n":34.5,"v":-3.1},
{"l":134.1,"n":1.5,"v":-3.9},{"l":134.1,"n":4.5,"v":-3.6},{"l":134.1,"n":7.5,"v":-3.4},{"l":134.1,"n":10.5,"v":-3.3},{"l":134.1,"n":13.5,"v":-3.2},{"l":134.1,"n":16.5,"v":-3.1},{"l":134.1,"n":19.5,"v":-2.8},{"l":134.1,"n":22.5,"v":-3.0},{"l":134.1,"n":25.5,"v":-3.1},{"l":134.1,"n":28.5,"v":-3.2},{"l":134.1,"n":31.5,"v":-3.3},{"l":134.1,"n":34.5,"v":-3.1},{"l":134.1,"n":37.5,"v":-2.8},
{"l":132.1,"n":1.5,"v":-3.9},{"l":132.1,"n":4.5,"v":-3.7},{"l":132.1,"n":7.5,"v":-3.5},{"l":132.1,"n":10.5,"v":-3.3},{"l":132.1,"n":13.5,"v":-3.1},{"l":132.1,"n":16.5,"v":-3.0},{"l":132.1,"n":19.5,"v":-3.0},{"l":132.1,"n":22.5,"v":-3.1},{"l":132.1,"n":25.5,"v":-3.0},{"l":132.1,"n":28.5,"v":-3.2},{"l":132.1,"n":31.5,"v":-3.3},{"l":132.1,"n":34.5,"v":-3.1},{"l":132.1,"n":37.5,"v":-2.8},
{"l":130.1,"n":1.5,"v":-3.9},{"l":130.1,"n":4.5,"v":-3.7},{"l":130.1,"n":7.5,"v":-3.5},{"l":130.1,"n":10.5,"v":-3.4},{"l":130.1,"n":13.5,"v":-3.3},{"l":130.1,"n":16.5,"v":-3.1},{"l":130.1,"n":19.5,"v":-3.1},{"l":130.1,"n":22.5,"v":-3.0},{"l":130.1,"n":25.5,"v":-3.0},{"l":130.1,"n":28.5,"v":-3.1},{"l":130.1,"n":31.5,"v":-3.2},{"l":130.1,"n":34.5,"v":-3.1},{"l":130.1,"n":37.5,"v":-2.7},
{"l":128.1,"n":1.5,"v":-3.9},{"l":128.1,"n":4.5,"v":-3.7},{"l":128.1,"n":7.5,"v":-3.6},{"l":128.1,"n":10.5,"v":-3.5},{"l":128.1,"n":13.5,"v":-3.4},{"l":128.1,"n":16.5,"v":-3.3},{"l":128.1,"n":19.5,"v":-3.2},{"l":128.1,"n":22.5,"v":-3.2},{"l":128.1,"n":25.5,"v":-3.1},{"l":128.1,"n":28.5,"v":-3.2},{"l":128.1,"n":31.5,"v":-3.2},{"l":128.1,"n":34.5,"v":-3.1},{"l":128.1,"n":37.5,"v":-2.7},{"l":128.1,"n":40.5,"v":-2.9},
{"l":126.1,"n":1.5,"v":-3.9},{"l":126.1,"n":4.5,"v":-3.8},{"l":126.1,"n":7.5,"v":-3.7},{"l":126.1,"n":10.5,"v":-3.6},{"l":126.1,"n":13.5,"v":-3.5},{"l":126.1,"n":16.5,"v":-3.4},{"l":126.1,"n":19.5,"v":-3.3},{"l":126.1,"n":22.5,"v":-3.3},{"l":126.1,"n":25.5,"v":-3.3},{"l":126.1,"n":28.5,"v":-3.3},{"l":126.1,"n":31.5,"v":-3.3},{"l":126.1,"n":34.5,"v":-3.2},{"l":126.1,"n":37.5,"v":-2.8},{"l":126.1,"n":40.5,"v":-2.5},
{"l":124.1,"n":4.5,"v":-3.9},{"l":124.1,"n":7.5,"v":-3.8},{"l":124.1,"n":10.5,"v":-3.7},{"l":124.1,"n":13.5,"v":-3.6},{"l":124.1,"n":16.5,"v":-3.5},{"l":124.1,"n":19.5,"v":-3.4},{"l":124.1,"n":22.5,"v":-3.4},{"l":124.1,"n":25.5,"v":-3.4},{"l":124.1,"n":28.5,"v":-3.4},{"l":124.1,"n":31.5,"v":-3.4},{"l":124.1,"n":34.5,"v":-3.3},{"l":124.1,"n":37.5,"v":-3.0},{"l":124.1,"n":40.5,"v":-2.6},{"l":124.1,"n":43.5,"v":-3.2},
{"l":122.1,"n":4.5,"v":-3.9},{"l":122.1,"n":7.5,"v":-3.9},{"l":122.1,"n":10.5,"v":-3.7},{"l":122.1,"n":13.5,"v":-3.6},{"l":122.1,"n":16.5,"v":-3.6},{"l":122.1,"n":19.5,"v":-3.5},{"l":122.1,"n":22.5,"v":-3.5},{"l":122.1,"n":25.5,"v":-3.5},{"l":122.1,"n":28.5,"v":-3.5},{"l":122.1,"n":31.5,"v":-3.5},{"l":122.1,"n":34.5,"v":-3.4},{"l":122.1,"n":37.5,"v":-3.1},{"l":122.1,"n":40.5,"v":-2.7},{"l":122.1,"n":43.5,"v":-2.9},
{"l":120.1,"n":7.5,"v":-3.9},{"l":120.1,"n":10.5,"v":-3.9},{"l":120.1,"n":13.5,"v":-3.8},{"l":120.1,"n":16.5,"v":-3.7},{"l":120.1,"n":19.5,"v":-3.7},{"l":120.1,"n":22.5,"v":-3.6},{"l":120.1,"n":25.5,"v":-3.6},{"l":120.1,"n":28.5,"v":-3.6},{"l":120.1,"n":31.5,"v":-3.5},{"l":120.1,"n":34.5,"v":-3.5},{"l":120.1,"n":37.5,"v":-3.3},{"l":120.1,"n":40.5,"v":-2.9},{"l":120.1,"n":43.5,"v":-3.3},
{"l":118.1,"n":7.5,"v":-3.9},{"l":118.1,"n":10.5,"v":-3.9},{"l":118.1,"n":13.5,"v":-3.9},{"l":118.1,"n":16.5,"v":-3.9},{"l":118.1,"n":19.5,"v":-3.6},{"l":118.1,"n":22.5,"v":-3.6},{"l":118.1,"n":25.5,"v":-3.6},{"l":118.1,"n":28.5,"v":-3.6},{"l":118.1,"n":31.5,"v":-3.6},{"l":118.1,"n":34.5,"v":-3.5},{"l":118.1,"n":37.5,"v":-3.3},{"l":118.1,"n":40.5,"v":-3.0},{"l":118.1,"n":43.5,"v":-3.2},
{"l":116.1,"n":7.5,"v":-3.9},{"l":116.1,"n":10.5,"v":-3.9},{"l":116.1,"n":13.5,"v":-3.9},{"l":116.1,"n":16.5,"v":-3.7},{"l":116.1,"n":19.5,"v":-3.6},{"l":116.1,"n":22.5,"v":-3.6},{"l":116.1,"n":25.5,"v":-3.5},{"l":116.1,"n":28.5,"v":-3.5},{"l":116.1,"n":31.5,"v":-3.5},{"l":116.1,"n":34.5,"v":-3.5},{"l":116.1,"n":37.5,"v":-3.3},{"l":116.1,"n":40.5,"v":-3.0},{"l":116.1,"n":43.5,"v":-3.2},
{"l":114.1,"n":7.5,"v":-3.9},{"l":114.1,"n":10.5,"v":-3.9},{"l":114.1,"n":13.5,"v":-3.9},{"l":114.1,"n":16.5,"v":-3.8},{"l":114.1,"n":19.5,"v":-3.6},{"l":114.1,"n":22.5,"v":-3.6},{"l":114.1,"n":25.5,"v":-3.5},{"l":114.1,"n":28.5,"v":-3.5},{"l":114.1,"n":31.5,"v":-3.6},{"l":114.1,"n":34.5,"v":-3.5},{"l":114.1,"n":37.5,"v":-3.4},{"l":114.1,"n":40.5,"v":-3.2},{"l":114.1,"n":43.5,"v":-3.3}],
"a0":[
{"l":135.8,"n":1.5,"v":-2.2},{"l":135.8,"n":4.5,"v":-2.0},
{"l":133.8,"n":1.5,"v":-2.3},{"l":133.8,"n":4.5,"v":-2.0},{"l":133.8,"n":7.5,"v":-1.9},
{"l":131.8,"n":1.5,"v":-2.3},{"l":131.8,"n":4.5,"v":-2.0},{"l":131.8,"n":7.5,"v":-1.9},{"l":131.8,"n":10.5,"v":-1.9},
{"l":129.8,"n":1.5,"v":-2.5},{"l":129.8,"n":4.5,"v":-2.1},{"l":129.8,"n":7.5,"v":-1.9},{"l":129.8,"n":10.5,"v":-1.8},{"l":129.8,"n":13.5,"v":-1.9},
{"l":127.8,"n":1.5,"v":-2.9},{"l":127.8,"n":4.5,"v":-2.6},{"l":127.8,"n":7.5,"v":-2.3},{"l":127.8,"n":10.5,"v":-2.0},{"l":127.8,"n":13.5,"v":-1.9},{"l":127.8,"n":16.5,"v":-1.9},
{"l":125.8,"n":1.5,"v":-3.4},{"l":125.8,"n":4.5,"v":-3.1},{"l":125.8,"n":7.5,"v":-3.1},{"l":125.8,"n":10.5,"v":-3.0},{"l":125.8,"n":13.5,"v":-2.5},{"l":125.8,"n":16.5,"v":-2.1},
{"l":123.8,"n":1.5,"v":-3.6},{"l":123.8,"n":4.5,"v":-3.2},{"l":123.8,"n":7.5,"v":-3.1},{"l":123.8,"n":10.5,"v":-3.1},{"l":123.8,"n":13.5,"v":-3.0},{"l":123.8,"n":16.5,"v":-2.6},{"l":123.8,"n":19.5,"v":-2.2},
{"l":121.8,"n":1.5,"v":-3.8},{"l":121.8,"n":4.5,"v":-3.3},{"l":121.8,"n":7.5,"v":-3.2},{"l":121.8,"n":10.5,"v":-3.2},{"l":121.8,"n":13.5,"v":-3.1},{"l":121.8,"n":16.5,"v":-2.9},{"l":121.8,"n":19.5,"v":-2.5},{"l":121.8,"n":22.5,"v":-2.0},
{"l":119.8,"n":1.5,"v":-3.8},{"l":119.8,"n":4.5,"v":-3.4},{"l":119.8,"n":7.5,"v":-3.3},{"l":119.8,"n":10.5,"v":-3.2},{"l":119.8,"n":13.5,"v":-3.2},{"l":119.8,"n":16.5,"v":-3.0},{"l":119.8,"n":19.5,"v":-2.6},{"l":119.8,"n":22.5,"v":-2.1},
{"l":117.8,"n":1.5,"v":-3.7},{"l":117.8,"n":4.5,"v":-3.5},{"l":117.8,"n":7.5,"v":-3.2},{"l":117.8,"n":10.5,"v":-3.3},{"l":117.8,"n":13.5,"v":-3.1},{"l":117.8,"n":16.5,"v":-3.1},{"l":117.8,"n":19.5,"v":-2.9},{"l":117.8,"n":22.5,"v":-2.2},{"l":117.8,"n":25.5,"v":-1.6},
{"l":115.8,"n":1.5,"v":-3.7},{"l":115.8,"n":4.5,"v":-3.5},{"l":115.8,"n":7.5,"v":-3.3},{"l":115.8,"n":10.5,"v":-3.4},{"l":115.8,"n":13.5,"v":-3.2},{"l":115.8,"n":16.5,"v":-3.2},{"l":115.8,"n":19.5,"v":-3.1},{"l":115.8,"n":22.5,"v":-2.5},{"l":115.8,"n":25.5,"v":-1.7},{"l":115.8,"n":28.5,"v":-1.3},
{"l":113.8,"n":1.5,"v":-3.6},{"l":113.8,"n":4.5,"v":-3.6},{"l":113.8,"n":7.5,"v":-3.4},{"l":113.8,"n":10.5,"v":-3.4},{"l":113.8,"n":13.5,"v":-3.3},{"l":113.8,"n":16.5,"v":-3.2},{"l":113.8,"n":19.5,"v":-3.1},{"l":113.8,"n":22.5,"v":-2.5},{"l":113.8,"n":25.5,"v":-1.8},{"l":113.8,"n":28.5,"v":-1.2}],
"a1":[
{"l":130.1,"n":1.5,"v":-2.2},{"l":130.1,"n":4.5,"v":-2.3},
{"l":128.1,"n":1.5,"v":-3.0},{"l":128.1,"n":4.5,"v":-2.6},{"l":128.1,"n":7.5,"v":-2.2},
{"l":126.1,"n":1.5,"v":-3.3},{"l":126.1,"n":4.5,"v":-3.0},{"l":126.1,"n":7.5,"v":-2.9},{"l":126.1,"n":10.5,"v":-2.5},{"l":126.1,"n":13.5,"v":-2.2},
{"l":124.1,"n":1.5,"v":-3.4},{"l":124.1,"n":4.5,"v":-3.2},{"l":124.1,"n":7.5,"v":-3.1},{"l":124.1,"n":10.5,"v":-2.9},{"l":124.1,"n":13.5,"v":-2.7},{"l":124.1,"n":16.5,"v":-2.3},
{"l":122.1,"n":1.5,"v":-3.6},{"l":122.1,"n":4.5,"v":-3.4},{"l":122.1,"n":7.5,"v":-3.3},{"l":122.1,"n":10.5,"v":-3.0},{"l":122.1,"n":13.5,"v":-3.0},{"l":122.1,"n":16.5,"v":-2.7},
{"l":120.1,"n":1.5,"v":-3.8},{"l":120.1,"n":4.5,"v":-3.6},{"l":120.1,"n":7.5,"v":-3.4},{"l":120.1,"n":10.5,"v":-3.2},{"l":120.1,"n":13.5,"v":-3.1},{"l":120.1,"n":16.5,"v":-3.1},{"l":120.1,"n":19.5,"v":-2.4},
{"l":118.1,"n":1.5,"v":-3.9},{"l":118.1,"n":4.5,"v":-3.7},{"l":118.1,"n":7.5,"v":-3.6},{"l":118.1,"n":10.5,"v":-3.4},{"l":118.1,"n":13.5,"v":-3.2},{"l":118.1,"n":16.5,"v":-3.2},{"l":118.1,"n":19.5,"v":-2.8},{"l":118.1,"n":22.5,"v":-2.4},
{"l":116.1,"n":1.5,"v":-3.9},{"l":116.1,"n":4.5,"v":-3.8},{"l":116.1,"n":7.5,"v":-3.6},{"l":116.1,"n":10.5,"v":-3.5},{"l":116.1,"n":13.5,"v":-3.3},{"l":116.1,"n":16.5,"v":-3.3},{"l":116.1,"n":19.5,"v":-3.2},{"l":116.1,"n":22.5,"v":-2.7},
{"l":114.1,"n":1.5,"v":-3.9},{"l":114.1,"n":4.5,"v":-3.8},{"l":114.1,"n":7.5,"v":-3.6},{"l":114.1,"n":10.5,"v":-3.4},{"l":114.1,"n":13.5,"v":-3.4},{"l":114.1,"n":16.5,"v":-3.3},{"l":114.1,"n":19.5,"v":-3.2},{"l":114.1,"n":22.5,"v":-2.8},{"l":114.1,"n":25.5,"v":-2.5}]
},
"vconcat":[
{"bounds":"flush","spacing":0,"hconcat":[
{"width":103,"height":20,"view":{"stroke":null},"data":{"values":[]},"mark":"rect"},
{"width":391,"height":20,"layer":[
{"data":{"values":[{"v":-4},{"v":-3.95},{"v":-3.9},{"v":-3.85},{"v":-3.8},{"v":-3.75},{"v":-3.7},{"v":-3.65},{"v":-3.6},{"v":-3.55},{"v":-3.5},{"v":-3.45},{"v":-3.4},{"v":-3.35},{"v":-3.3},{"v":-3.25},{"v":-3.2},{"v":-3.15},{"v":-3.1},{"v":-3.05},{"v":-3},{"v":-2.95},{"v":-2.9},{"v":-2.85},{"v":-2.8},{"v":-2.75},{"v":-2.7},{"v":-2.65},{"v":-2.6},{"v":-2.55},{"v":-2.5},{"v":-2.45},{"v":-2.4},{"v":-2.35},{"v":-2.3},{"v":-2.25},{"v":-2.2},{"v":-2.15},{"v":-2.1},{"v":-2.05},{"v":-2},{"v":-1.95},{"v":-1.9},{"v":-1.85},{"v":-1.8},{"v":-1.75},{"v":-1.7},{"v":-1.65},{"v":-1.6},{"v":-1.55},{"v":-1.5},{"v":-1.45},{"v":-1.4},{"v":-1.35},{"v":-1.3},{"v":-1.25},{"v":-1.2},{"v":-1.15},{"v":-1.1},{"v":-1.05},{"v":-1},{"v":-0.95},{"v":-0.9},{"v":-0.85},{"v":-0.8},{"v":-0.75},{"v":-0.7},{"v":-0.65},{"v":-0.6},{"v":-0.55},{"v":-0.5},{"v":-0.45},{"v":-0.4},{"v":-0.35},{"v":-0.3},{"v":-0.25},{"v":-0.2},{"v":-0.15},{"v":-0.1},{"v":-0.05},{"v":0}]},"mark":{"type":"rect","width":5.6,"clip":true},"encoding":{"x":{"field":"v","type":"quantitative","scale":{"domain":[-4,0],"nice":false,"zero":false},"axis":{"orient":"top","values":[-4,-3.5,-3,-2.5,-2,-1.5,-1,-0.5,0],"format":".1f","title":"log(η)","titleFont":"DejaVu Serif","titleFontStyle":"italic","titleFontSize":16.5,"tickSize":7,"titlePadding":4,"labelPadding":1,"labelFontSize":14,"labelFlush":false}},"color":{"field":"v","type":"quantitative","legend":null,"scale":{"domain":[-4,-3.56,-2.6,-2,-1.4,-0.44,0],"range":["#00007f","#0000ff","#00ffff","#7dff7a","#ffee00","#ff1000","#7f0000"]}}}},
{"data":{"values":[{"a":-4,"b":0}]},"mark":{"type":"rect","fill":null,"stroke":"black","strokeWidth":2},"encoding":{"x":{"field":"a","type":"quantitative"},"x2":{"field":"b"}}}
]}
]},
{"bounds":"flush","columns":2,"spacing":{"row":11,"column":12},"concat":[
{"width":292,"height":256,"resolve":{"axis":{"y":"independent"}},"layer":[
{"data":{"name":"u0"},"mark":{"type":"rect","width":7.3,"height":13,"clip":true},"encoding":{"x":{"field":"l","type":"quantitative","scale":{"domain":[196.7,114],"nice":false,"zero":false},"axis":{"values":[180,160,140,120],"labels":false,"title":null,"domain":true,"domainWidth":2.4,"domainColor":"black"}},"y":{"field":"n","type":"quantitative","scale":{"domain":[-0.3,60.4],"nice":false,"zero":false},"axis":{"values":[0,10,20,30,40,50],"title":"N"}},"color":{"field":"v","type":"quantitative","legend":null,"scale":{"domain":[-4,-3.56,-2.6,-2,-1.4,-0.44,0],"range":["#00007f","#0000ff","#00ffff","#7dff7a","#ffee00","#ff1000","#7f0000"]}}}},
{"data":{"name":"b0"},"mark":{"type":"rect","clip":true},"encoding":{"x":{"field":"a","type":"quantitative"},"x2":{"field":"c"},"y":{"field":"y","type":"quantitative","axis":null},"y2":{"field":"z"},"color":{"field":"v","type":"quantitative","legend":null,"scale":{"domain":[-4,-3.56,-2.6,-2,-1.4,-0.44,0],"range":["#00007f","#0000ff","#00ffff","#7dff7a","#ffee00","#ff1000","#7f0000"]}}}},
{"data":{"values":[{"t":"OH(X,v=0)"}]},"mark":{"type":"text"},"encoding":{"text":{"field":"t"},"x":{"datum":191.3},"y":{"datum":54.5,"type":"quantitative","axis":{"orient":"right","labels":false,"title":null,"values":[0,10,20,30,40,50],"domain":true,"domainWidth":2.4,"domainColor":"black"}}}}
]},
{"width":292,"height":256,"layer":[
{"data":{"name":"u1"},"mark":{"type":"rect","width":7.3,"height":13,"clip":true},"encoding":{"x":{"field":"l","type":"quantitative","scale":{"domain":[196.7,114],"nice":false,"zero":false},"axis":{"values":[180,160,140,120],"labels":false,"title":null,"domain":true,"domainWidth":2.4,"domainColor":"black"}},"y":{"field":"n","type":"quantitative","scale":{"domain":[-0.3,60.4],"nice":false,"zero":false},"axis":{"values":[0,10,20,30,40,50],"labels":false,"title":null}},"color":{"field":"v","type":"quantitative","legend":null,"scale":{"domain":[-4,-3.56,-2.6,-2,-1.4,-0.44,0],"range":["#00007f","#0000ff","#00ffff","#7dff7a","#ffee00","#ff1000","#7f0000"]}}}},
{"data":{"name":"b1"},"mark":{"type":"rect","clip":true},"encoding":{"x":{"field":"a","type":"quantitative"},"x2":{"field":"c"},"y":{"field":"y","type":"quantitative"},"y2":{"field":"z"},"color":{"field":"v","type":"quantitative","legend":null,"scale":{"domain":[-4,-3.56,-2.6,-2,-1.4,-0.44,0],"range":["#00007f","#0000ff","#00ffff","#7dff7a","#ffee00","#ff1000","#7f0000"]}}}},
{"data":{"values":[{"t":"OH(X,v=1)"}]},"mark":{"type":"text"},"encoding":{"text":{"field":"t"},"x":{"datum":191.0},"y":{"datum":54.5}}}
]},
{"width":292,"height":256,"resolve":{"axis":{"y":"independent"}},"layer":[
{"data":{"name":"u2"},"mark":{"type":"rect","width":7.3,"height":13,"clip":true},"encoding":{"x":{"field":"l","type":"quantitative","scale":{"domain":[196.7,114],"nice":false,"zero":false},"axis":{"values":[180,160,140,120],"labels":false,"title":null,"domain":true,"domainWidth":2.4,"domainColor":"black"}},"y":{"field":"n","type":"quantitative","scale":{"domain":[-0.3,60.4],"nice":false,"zero":false},"axis":{"values":[0,10,20,30,40,50],"title":"N"}},"color":{"field":"v","type":"quantitative","legend":null,"scale":{"domain":[-4,-3.56,-2.6,-2,-1.4,-0.44,0],"range":["#00007f","#0000ff","#00ffff","#7dff7a","#ffee00","#ff1000","#7f0000"]}}}},
{"data":{"name":"b2"},"mark":{"type":"rect","clip":true},"encoding":{"x":{"field":"a","type":"quantitative"},"x2":{"field":"c"},"y":{"field":"y","type":"quantitative","axis":null},"y2":{"field":"z"},"color":{"field":"v","type":"quantitative","legend":null,"scale":{"domain":[-4,-3.56,-2.6,-2,-1.4,-0.44,0],"range":["#00007f","#0000ff","#00ffff","#7dff7a","#ffee00","#ff1000","#7f0000"]}}}},
{"data":{"values":[{"t":"OH(X,v=2)"}]},"mark":{"type":"text"},"encoding":{"text":{"field":"t"},"x":{"datum":191.3},"y":{"datum":54.5,"type":"quantitative","axis":{"orient":"right","labels":false,"title":null,"values":[0,10,20,30,40,50],"domain":true,"domainWidth":2.4,"domainColor":"black"}}}}
]},
{"width":292,"height":256,"layer":[
{"data":{"name":"u3"},"mark":{"type":"rect","width":7.3,"height":13,"clip":true},"encoding":{"x":{"field":"l","type":"quantitative","scale":{"domain":[196.7,114],"nice":false,"zero":false},"axis":{"values":[180,160,140,120],"labels":false,"title":null,"domain":true,"domainWidth":2.4,"domainColor":"black"}},"y":{"field":"n","type":"quantitative","scale":{"domain":[-0.3,60.4],"nice":false,"zero":false},"axis":{"values":[0,10,20,30,40,50],"labels":false,"title":null}},"color":{"field":"v","type":"quantitative","legend":null,"scale":{"domain":[-4,-3.56,-2.6,-2,-1.4,-0.44,0],"range":["#00007f","#0000ff","#00ffff","#7dff7a","#ffee00","#ff1000","#7f0000"]}}}},
{"data":{"name":"b3"},"mark":{"type":"rect","clip":true},"encoding":{"x":{"field":"a","type":"quantitative"},"x2":{"field":"c"},"y":{"field":"y","type":"quantitative"},"y2":{"field":"z"},"color":{"field":"v","type":"quantitative","legend":null,"scale":{"domain":[-4,-3.56,-2.6,-2,-1.4,-0.44,0],"range":["#00007f","#0000ff","#00ffff","#7dff7a","#ffee00","#ff1000","#7f0000"]}}}},
{"data":{"values":[{"t":"OH(X,v=3)"}]},"mark":{"type":"text"},"encoding":{"text":{"field":"t"},"x":{"datum":191.0},"y":{"datum":54.5}}}
]},
{"width":292,"height":257,"resolve":{"axis":{"y":"independent"}},"layer":[
{"data":{"name":"a0"},"mark":{"type":"rect","width":7.3,"height":13,"clip":true},"encoding":{"x":{"field":"l","type":"quantitative","scale":{"domain":[196.7,114],"nice":false,"zero":false},"axis":{"values":[180,160,140,120],"title":"λ (nm)","titleFont":"DejaVu Sans","titleFontSize":20,"titlePadding":13,"labelPadding":6,"domain":true,"domainWidth":2.4,"domainColor":"black"}},"y":{"field":"n","type":"quantitative","scale":{"domain":[-0.3,60.4],"nice":false,"zero":false},"axis":{"values":[0,10,20,30,40,50],"title":"N"}},"color":{"field":"v","type":"quantitative","legend":null,"scale":{"domain":[-4,-3.56,-2.6,-2,-1.4,-0.44,0],"range":["#00007f","#0000ff","#00ffff","#7dff7a","#ffee00","#ff1000","#7f0000"]}}}},
{"data":{"values":[{"t":"OH(A,v=0)"}]},"mark":{"type":"text"},"encoding":{"text":{"field":"t"},"x":{"datum":191.3},"y":{"datum":54.5,"type":"quantitative","axis":{"orient":"right","labels":false,"title":null,"values":[0,10,20,30,40,50],"domain":true,"domainWidth":2.4,"domainColor":"black"}}}}
]},
{"width":292,"height":257,"layer":[
{"data":{"name":"a1"},"mark":{"type":"rect","width":7.3,"height":13,"clip":true},"encoding":{"x":{"field":"l","type":"quantitative","scale":{"domain":[196.7,114],"nice":false,"zero":false},"axis":{"values":[180,160,140,120],"title":"λ (nm)","titleFont":"DejaVu Sans","titleFontSize":20,"titlePadding":13,"labelPadding":6,"domain":true,"domainWidth":2.4,"domainColor":"black"}},"y":{"field":"n","type":"quantitative","scale":{"domain":[-0.3,60.4],"nice":false,"zero":false},"axis":{"values":[0,10,20,30,40,50],"labels":false,"title":null}},"color":{"field":"v","type":"quantitative","legend":null,"scale":{"domain":[-4,-3.56,-2.6,-2,-1.4,-0.44,0],"range":["#00007f","#0000ff","#00ffff","#7dff7a","#ffee00","#ff1000","#7f0000"]}}}},
{"data":{"values":[{"t":"OH(A,v=1)"}]},"mark":{"type":"text"},"encoding":{"text":{"field":"t"},"x":{"datum":191.0},"y":{"datum":54.5}}}
]}
]}
]}
